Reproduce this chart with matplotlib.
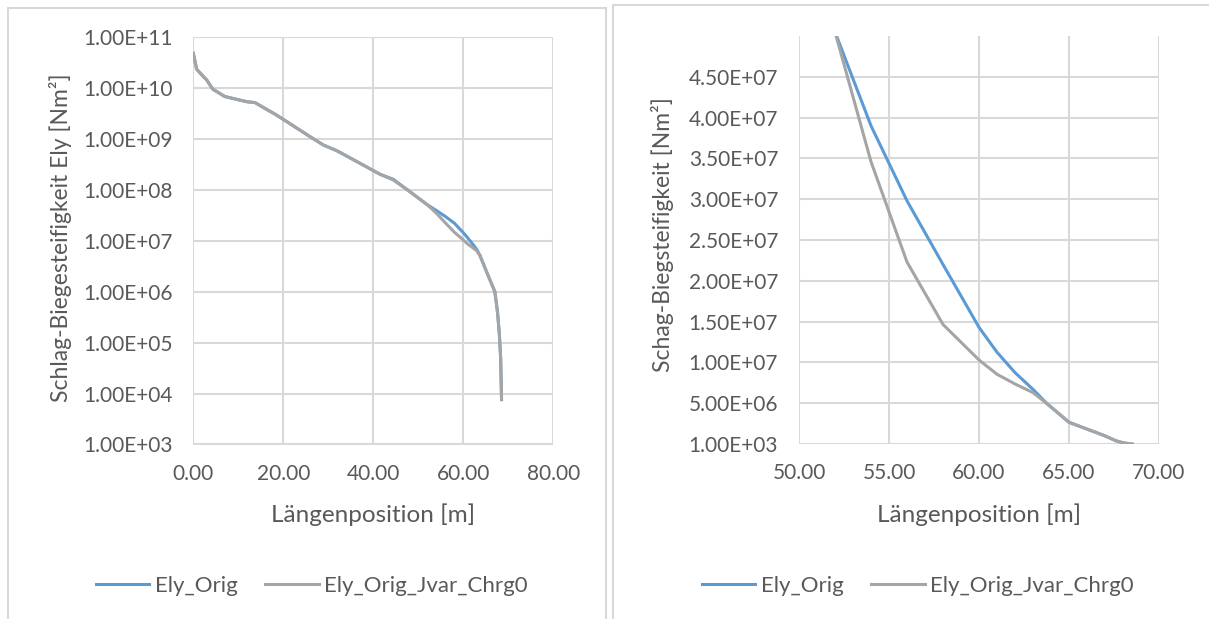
import matplotlib
matplotlib.use("Agg")
import matplotlib.pyplot as plt
from matplotlib.patches import Rectangle
from matplotlib.ticker import FixedLocator, FuncFormatter

plt.rcParams['font.family'] = ['Lato', 'DejaVu Sans']

# Laengenposition [m]
pos = [0, 0.75, 1.9, 3.0, 4.3, 7.0, 11.9, 13.7, 18.5, 20.8, 25.9, 28.9, 31.9,
       37.0, 41.5, 44.4, 48.0, 52.0, 54.0, 56.0, 58.0, 60.0, 61.0, 62.0, 63.0,
       63.75, 65.0, 67.0, 67.6, 68.0, 68.3, 68.5]

# Ely_Orig
ely_orig = [4.7e10, 2.3e10, 1.78e10, 1.41e10, 9.4e9, 6.7e9, 5.3e9, 5.1e9, 2.9e9,
            2.15e9, 1.1e9, 7.5e8, 5.8e8, 3.3e8, 2.0e8, 1.6e8, 9.3e7, 5.05e7,
            3.9e7, 2.98e7, 2.2e7, 1.43e7, 1.125e7, 8.75e6, 6.7e6,
            5.0e6, 2.66e6, 1.0e6, 4.0e5, 1.5e5, 5.0e4, 7.6e3]

# Ely_Orig_Jvar_Chrg0
ely_jvar = [4.7e10, 2.3e10, 1.78e10, 1.41e10, 9.4e9, 6.7e9, 5.3e9, 5.1e9, 2.9e9,
            2.15e9, 1.1e9, 7.5e8, 5.8e8, 3.3e8, 2.0e8, 1.55e8, 9.3e7, 5.05e7,
            3.46e7, 2.23e7, 1.465e7, 1.03e7, 8.55e6, 7.36e6, 6.3e6,
            5.0e6, 2.66e6, 1.0e6, 4.0e5, 1.5e5, 5.0e4, 7.6e3]

left_yticks = [1e3, 1e4, 1e5, 1e6, 1e7, 1e8, 1e9, 1e10, 1e11]
left_xticks = [0, 20, 40, 60, 80]
right_yticks = [1e3 + 5e6 * k for k in range(10)]
right_xticks = [50, 55, 60, 65, 70]

W, H = 1209, 619
fig = plt.figure(figsize=(W / 100, H / 100), dpi=100)

txt = '#595959'
grid = '#d9d9d9'
blue = '#5b9bd5'
gray = '#a5a5a5'


def fx(px):
    return px / W


def fy(py):
    return 1 - py / H


# panel frames
fig.patches.append(Rectangle((fx(8), fy(700)), fx(598), fy(8) - fy(700), transform=fig.transFigure,
                             fill=False, edgecolor='#d9d9d9', lw=1.5))
fig.patches.append(Rectangle((fx(613), fy(700)), fx(700), fy(5) - fy(700), transform=fig.transFigure,
                             fill=False, edgecolor='#d9d9d9', lw=1.5))

ax1 = fig.add_axes([fx(193.3), fy(444.5), fx(553.3) - fx(193.3), fy(36.7) - fy(444.5)])
ax2 = fig.add_axes([fx(799), fy(444), fx(1159) - fx(799), fy(36) - fy(444)])

for ax in (ax1, ax2):
    ax.plot(pos, ely_orig, color=blue, lw=2.2, label='Ely_Orig', solid_joinstyle='round')
    ax.plot(pos, ely_jvar, color=gray, lw=2.2, label='Ely_Orig_Jvar_Chrg0', solid_joinstyle='round')
    for s in ax.spines.values():
        s.set_visible(False)
    ax.grid(True, color=grid, lw=1.5)
    ax.set_axisbelow(True)
    ax.tick_params(length=0, labelsize=15, labelcolor=txt)
    ax.tick_params(axis='y', pad=15)
    ax.tick_params(axis='x', pad=14)

ax1.set_yscale('log')
ax1.set_xlim(0, 80)
ax1.set_ylim(1e3, 1e11)
ax1.yaxis.set_major_locator(FixedLocator(left_yticks))
ax1.yaxis.set_minor_locator(FixedLocator([]))
ax1.set_xticks(left_xticks)
ax1.xaxis.set_major_formatter(FuncFormatter(lambda v, p: f'{v:.2f}'))
ax1.yaxis.set_major_formatter(FuncFormatter(lambda v, p: f'{v:.2E}'))

ax2.set_xlim(50, 70)
ax2.set_ylim(1e3, 5e7)
ax2.set_xticks(right_xticks)
ax2.set_yticks(right_yticks)
ax2.xaxis.set_major_formatter(FuncFormatter(lambda v, p: f'{v:.2f}'))
ax2.yaxis.set_major_formatter(FuncFormatter(lambda v, p: f'{v:.2E}'))

fig.text(fx(373), fy(522), 'Längenposition [m]', ha='center', va='baseline', fontsize=17.5, color=txt)
fig.text(fx(979), fy(521.5), 'Längenposition [m]', ha='center', va='baseline', fontsize=17.5, color=txt)
fig.text(fx(60), fy(238), 'Schlag-Biegesteifigkeit Ely [Nm²]', rotation=90, ha='center', va='center',
         fontsize=16.5, color=txt)
fig.text(fx(663), fy(235), 'Schag-Biegsteifigkeit [Nm²]', rotation=90, ha='center', va='center',
         fontsize=16.5, color=txt)

for ax, cx in ((ax1, 312), (ax2, 918)):
    leg = ax.legend(loc='center', bbox_to_anchor=(fx(cx), fy(586)), bbox_transform=fig.transFigure,
                    ncol=2, frameon=False, fontsize=16, handlelength=2.4, handletextpad=0.25,
                    columnspacing=1.25)
    for t in leg.get_texts():
        t.set_color(txt)

fig.savefig('out.png', dpi=100)
